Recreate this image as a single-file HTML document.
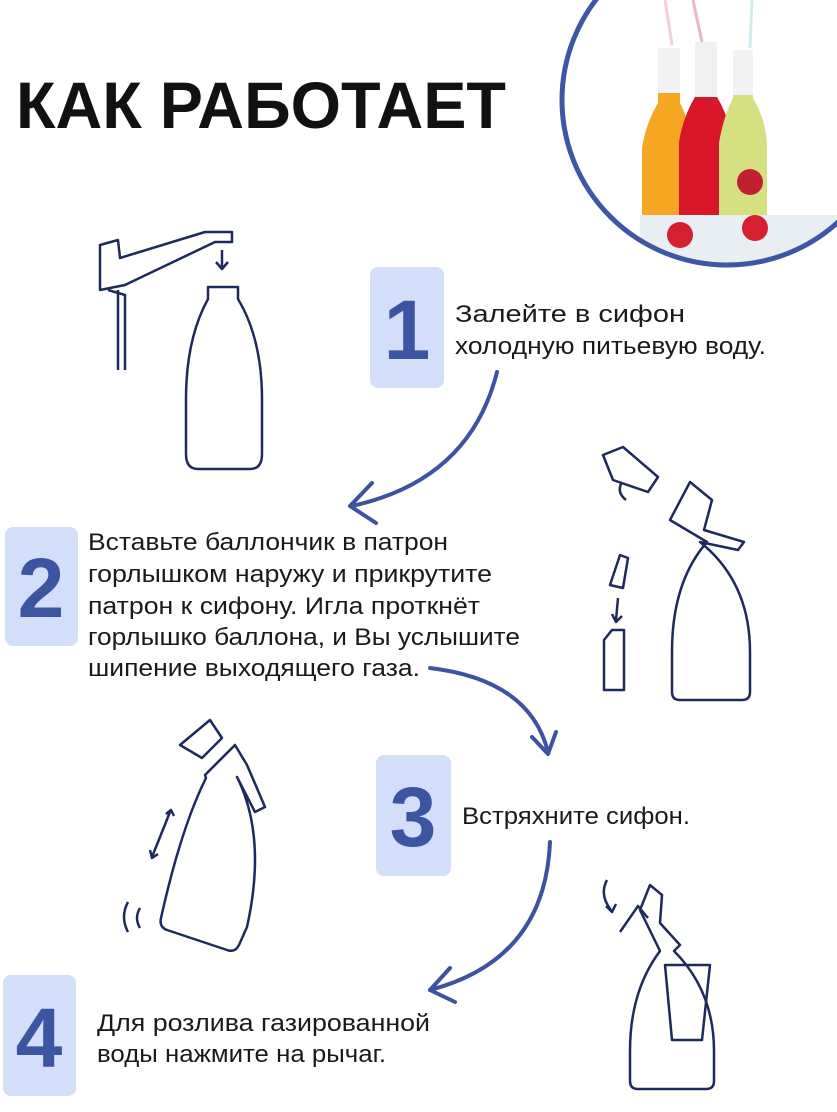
<!DOCTYPE html>
<html><head><meta charset="utf-8"><style>
html,body{margin:0;padding:0;background:#fff}
svg{display:block}
text{font-family:"Liberation Sans",Arial,sans-serif}
</style></head><body>
<svg width="837" height="1112" viewBox="0 0 837 1112" xmlns="http://www.w3.org/2000/svg">
<defs>
<clipPath id="cc"><circle cx="727" cy="100" r="165"/></clipPath>
</defs>
<text x="16" y="128" font-size="66" font-weight="bold" fill="#111" textLength="490" lengthAdjust="spacingAndGlyphs">КАК РАБОТАЕТ</text>
<g clip-path="url(#cc)">
<rect x="560" y="0" width="277" height="270" fill="#fff"/>
<line x1="665" y1="0" x2="672" y2="45" stroke="#f2d0d8" stroke-width="3"/>
<line x1="693" y1="0" x2="702" y2="42" stroke="#e8b8c8" stroke-width="3"/>
<line x1="752" y1="0" x2="750" y2="48" stroke="#d0ecec" stroke-width="3"/>
<path d="M658 48h22v55q10 20 14 45v95h-52v-95q4-25 16-45z" fill="#f5a623"/>
<path d="M695 42h22v55q12 20 16 45v100h-54v-100q4-25 16-45z" fill="#d8182a"/>
<path d="M733 50h20v48q12 20 14 45v80h-48v-80q4-25 14-45z" fill="#d5e080"/>
<path d="M658 48h22v45h-22zM733 50h20v45h-20z" fill="#f3f3f3"/>
<path d="M695 42h22v55h-22z" fill="#f0f0f0"/>
<rect x="640" y="215" width="200" height="55" fill="#e8eef2"/>
<circle cx="680" cy="235" r="13" fill="#d52030"/>
<circle cx="755" cy="228" r="13" fill="#d52030"/>
<circle cx="750" cy="182" r="13" fill="#c02030"/>
</g>
<circle cx="727" cy="100" r="165" fill="none" stroke="#3d57a6" stroke-width="5"/>
<g fill="#d3def8">
<rect x="370" y="267" width="74" height="121" rx="8"/>
<rect x="5" y="527" width="73" height="119" rx="8"/>
<rect x="376" y="755" width="75" height="121" rx="8"/>
<rect x="3" y="975" width="73" height="121" rx="8"/>
</g>
<g fill="#3c55a0" font-weight="bold" font-size="84" text-anchor="middle">
<text x="407" y="359">1</text>
<text x="41" y="617">2</text>
<text x="413" y="846">3</text>
<text x="39" y="1067">4</text>
</g>
<g font-size="24" fill="#1a1a1a">
<text x="455" y="322" textLength="230" lengthAdjust="spacingAndGlyphs">Залейте в сифон</text>
<text x="455" y="354" textLength="311" lengthAdjust="spacingAndGlyphs">холодную питьевую воду.</text>
<text x="88" y="550" textLength="360" lengthAdjust="spacingAndGlyphs">Вставьте баллончик в патрон</text>
<text x="88" y="582" textLength="404" lengthAdjust="spacingAndGlyphs">горлышком наружу и прикрутите</text>
<text x="88" y="614" textLength="392" lengthAdjust="spacingAndGlyphs">патрон к сифону. Игла проткнёт</text>
<text x="88" y="645" textLength="432" lengthAdjust="spacingAndGlyphs">горлышко баллона, и Вы услышите</text>
<text x="88" y="676" textLength="332" lengthAdjust="spacingAndGlyphs">шипение выходящего газа.</text>
<text x="462" y="824" textLength="228" lengthAdjust="spacingAndGlyphs">Встряхните сифон.</text>
<text x="97" y="1031" textLength="333" lengthAdjust="spacingAndGlyphs">Для розлива газированной</text>
<text x="97" y="1062" textLength="289" lengthAdjust="spacingAndGlyphs">воды нажмите на рычаг.</text>
</g>
<g fill="none" stroke="#3d52a0" stroke-width="4" stroke-linecap="round" stroke-linejoin="round">
<path d="M497 372 Q470 480 352 506"/>
<path d="M372 483 L350 506 L376 523"/>
<path d="M430 668 Q530 680 548 752"/>
<path d="M532 737 L548 754 L556 732"/>
<path d="M550 842 Q545 960 430 990"/>
<path d="M450 968 L430 990 L455 1002"/>
</g>
<g fill="none" stroke="#1f2a5c" stroke-width="2.5" stroke-linejoin="round">
<path d="M100 290 L100 245 L118 240 L120 258 L205 232 L232 232 L232 242 L215 242 L125 285 Z"/>
<path d="M108 290 L125 295 L125 370 M118 290 L118 370"/>
<line x1="222" y1="250" x2="222" y2="268"/>
<path d="M216 262 L222 269 L228 262"/>
<path d="M208 287 h30 v12 q24 40 24 100 v55 q0 15 -12 15 h-52 q-12 0 -12 -15 v-55 q0 -60 22 -100z"/>
<path d="M670 520 l20 -38 l22 18 l-8 30 l40 12 l-6 8 l-38 -8 q50 40 50 110 v40 q0 8 -8 8 h-62 q-8 0 -8 -8 v-40 q0 -70 35 -110z"/>
<path d="M603 455 l20 -8 l35 30 l-10 15 l-35 -12z"/>
<path d="M610 585 l10 -30 l8 3 l-5 30z"/>
<path d="M612 630 h12 v60 h-20 v-50z"/>
<path d="M618 598 l-2 22 M612 614 l4 8 l6 -6"/>
<path d="M622 482 q-6 10 4 18"/>
<path d="M180 745 l30 -25 l12 18 l-20 20z"/>
<path d="M205 775 l30 -30 l12 20 l18 42 l-10 5 l-18 -35 q30 60 10 150 l-8 18 q-4 8 -12 5 l-60 -20 q-8 -3 -6 -12 q20 -90 45 -140z"/>
<path d="M170 812 l-18 45 M166 814 l5 -4 l3 6 M150 850 l2 8 l6 -4"/>
<path d="M128 902 q-8 15 0 30 M140 908 q-6 10 0 20"/>
<path d="M640 910 l10 -25 l12 10 l-2 28 l20 22 l-6 6 q40 40 40 100 v30 q0 8 -8 8 h-68 q-8 0 -8 -8 v-30 q0 -60 30 -100z"/>
<path d="M620 932 l18 -26 l10 12"/>
<path d="M665 965 h45 l-8 75 h-30z"/>
<path d="M607 880 q-8 15 4 30 M606 906 l6 6 l4 -8"/>
</g>
</svg>
</body></html>
